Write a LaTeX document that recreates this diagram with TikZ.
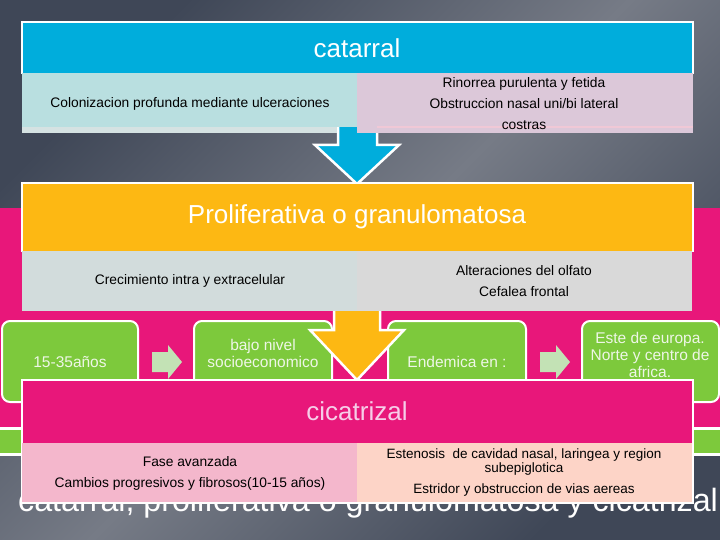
\documentclass[tikz,border=0pt]{standalone}
\usepackage{fontspec}
\setmainfont{Liberation Sans}
\definecolor{bgd}{HTML}{3F4757}
\definecolor{bgl}{HTML}{767B86}
\definecolor{bl}{HTML}{00ADDC}
\definecolor{yl}{HTML}{FDB813}
\definecolor{mg}{HTML}{E8177A}
\definecolor{gr}{HTML}{7DC93C}
\definecolor{lg}{HTML}{C3E2B5}
\definecolor{teal}{HTML}{B9DFE0}
\definecolor{lav}{HTML}{DCC8D9}
\definecolor{stripa}{HTML}{D5E2E2}
\definecolor{pinkline}{HTML}{F0C8D6}
\definecolor{grc}{HTML}{D2DCDC}
\definecolor{gry}{HTML}{D9D9D9}
\definecolor{pk}{HTML}{F4B7CC}
\definecolor{pe}{HTML}{FDD4C7}
\definecolor{cit}{HTML}{F6CDE8}
\definecolor{gtext}{HTML}{EEF6E6}
\begin{document}
\begin{tikzpicture}[x=1pt,y=-1pt,
  txt/.style={inner sep=0pt, align=center, text=black, font=\fontsize{13.8}{21}\selectfont},
  ttl/.style={inner sep=0pt, text=white, font=\fontsize{26}{30}\selectfont},
  gbox/.style={fill=gr, draw=white, line width=2pt, rounded corners=8pt, inner sep=0pt},
  gtxt/.style={inner sep=0pt, align=center, text=gtext, font=\fontsize{15.5}{17}\selectfont},
  barrow/.style={draw=white, line width=2.5pt, line join=miter},
  larrow/.style={fill=lg}
]
\useasboundingbox (0,0) rectangle (720,540);
\shade[top color=bgd, bottom color=bgd, middle color=bgl, shading angle=45] (0,0) rectangle (720,540);

% background band of the process
\fill[mg] (0,208) rectangle (720,427);
\fill[white] (0,427) rectangle (720,456);
\fill[gr] (0,430) rectangle (720,453);

% green process boxes
\node[gbox, minimum width=136pt, minimum height=81pt] (g1) at (70,361.5) {};
\node[gbox, minimum width=138pt, minimum height=81pt] (g2) at (263,361.5) {};
\node[gbox, minimum width=138pt, minimum height=81pt] (g3) at (457,361.5) {};
\node[gbox, minimum width=137pt, minimum height=81pt] (g4) at (650.5,361.5) {};
\node[gtxt] (t1) at (70,362) {15-35años};
\node[gtxt] (t2) at (263,353.5) {bajo nivel\\socioeconomico};
\node[gtxt] (t3) at (457,362) {Endemica en :};
\node[gtxt] (t4) at (650,355) {Este de europa.\\Norte y centro de\\africa.};
\fill[larrow] (152,352) -- (168,352) -- (168,345) -- (182,362) -- (168,379) -- (168,372) -- (152,372) -- cycle;
\fill[larrow] (540,352) -- (556,352) -- (556,345) -- (570,362) -- (556,379) -- (556,372) -- (540,372) -- cycle;

% stage 1: catarral
\filldraw[barrow, fill=bl] (338,122) -- (338,145) -- (315,145) -- (357,184) -- (399,145) -- (377,145) -- (377,122) -- cycle;
\fill[white] (20.5,21) rectangle (693.5,74);
\fill[bl] (22.5,23.5) rectangle (692,73);
\fill[teal] (22,73) rectangle (357,127);
\fill[stripa] (22,127) rectangle (337,133);
\fill[lav] (357,73) rectangle (693,133);
\fill[pinkline] (377,126.5) rectangle (693,128.5);
\node[ttl] (h1) at (357,48) {catarral};
\node[txt] (c1l) at (190,104) {Colonizacion profunda mediante ulceraciones};
\node[txt] (c1r) at (524,104) {Rinorrea purulenta y fetida\\Obstruccion nasal uni/bi lateral\\costras};

% stage 2: proliferativa
\fill[white] (20.5,182) rectangle (693.5,252);
\fill[yl] (22.5,184.5) rectangle (692,251);
\filldraw[barrow, fill=yl] (334,305) -- (334,330) -- (310,330) -- (357,380) -- (404,330) -- (380,330) -- (380,305) -- cycle;
\fill[grc] (22,251) rectangle (357,311);
\fill[gry] (357,251) rectangle (692,311);
\node[ttl] (h2) at (357,217) {Proliferativa o granulomatosa};
\node[txt] (c2l) at (190,281) {Crecimiento intra y extracelular};
\node[txt] (c2r) at (524,281.5) {Alteraciones del olfato\\Cefalea frontal};

% bottom caption
\node[inner sep=0pt, anchor=base west, text=white, font=\fontsize{32.2}{36}\selectfont] (cap) at (18,511) {catarral, proliferativa o granulomatosa y cicatrizal};

% stage 3: cicatrizal
\fill[white] (20.5,378.5) rectangle (693.5,504);
\fill[mg] (22.5,381) rectangle (692,443);
\fill[pk] (22,443) rectangle (357,502);
\fill[pe] (357,443) rectangle (692,502);
\node[ttl, text=cit] (h3) at (357,411) {cicatrizal};
\node[txt] (c3l) at (190,473.5) {Fase avanzada\\Cambios progresivos y fibrosos(10-15 años)};
\node[txt, font=\fontsize{13.5}{14}\selectfont] (c3r) at (524,473) {Estenosis\ \ de cavidad nasal, laringea y region\\subepiglotica\\[7pt]Estridor y obstruccion de vias aereas};
\end{tikzpicture}
\end{document}
